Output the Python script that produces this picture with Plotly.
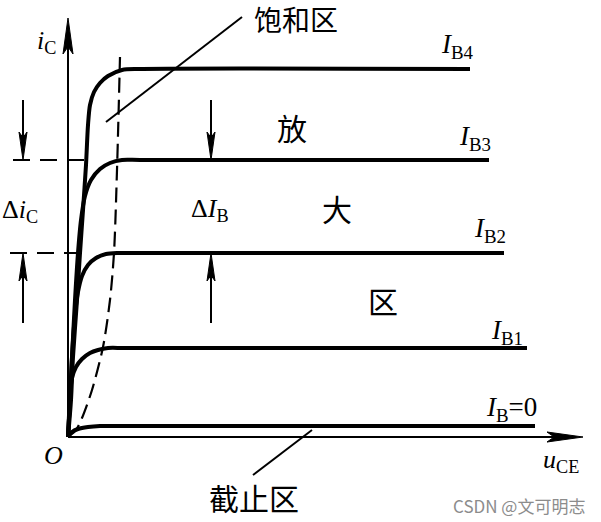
import plotly.graph_objects as go

# ---- output characteristic curves (u_CE, i_C) in chart units ----
ib4_u = [0, 3, 5, 9, 12, 15, 18, 20, 22, 26, 32, 40, 54, 72, 402]
ib4_i = [0, 37, 80, 137, 184, 227, 272, 312, 332, 345, 354, 361, 367, 368, 368]

ib3_u = [0, 2, 4, 7, 10, 13, 17, 23, 32, 42, 54, 72, 421]
ib3_i = [0, 37, 80, 137, 184, 217, 241, 257, 268, 274, 277, 277, 277]

ib2_u = [0, 2, 4, 7, 10, 14, 20, 28, 38, 50, 67, 436]
ib2_i = [0, 37, 80, 122, 145, 161, 172, 179, 183, 184, 184, 184]

ib1_u = [0, 1, 2, 4, 8, 14, 22, 30, 40, 57, 459]
ib1_i = [0, 22, 42, 59, 70, 78, 84, 87, 89, 89, 89]

ib0_u = [0, 4, 10, 20, 32, 52, 467]
ib0_i = [0, 5, 8, 10, 11, 11, 11]

# saturation boundary (dashed)
sat_u = [1, 8, 14, 24, 35, 42, 46, 49, 52]
sat_i = [1, 7, 19, 47, 90, 137, 184, 267, 380]

# axes extents
x_axis_end = 515
y_axis_end = 419

# delta i_C reference levels (IB3 and IB2 levels)
delta_levels = [277, 184]
delta_ref_start = [-55, -58]
delta_ref_end = [18, 12]
arrow_cols = [-45, 143]
arrow_outer = [337, 114]

# leader lines
sat_leader_u = [38, 174]
sat_leader_i = [315, 420]
cut_leader_u = [185, 244]
cut_leader_i = [-38, 7]

# curve labels
curve_labels = ["<i>I</i><sub>B4</sub>", "<i>I</i><sub>B3</sub>", "<i>I</i><sub>B2</sub>",
                "<i>I</i><sub>B1</sub>", "<i>I</i><sub>B</sub>=0"]
curve_label_u = [371, 389, 404, 421, 416]
curve_label_i = [391, 299, 207, 105, 28]

region_texts = ["饱和区", "放", "大", "区", "截止区"]
region_u = [228, 224, 269, 315, 186]
region_i = [418, 310, 229, 137, -60]
region_size = [28, 30, 30, 30, 30]

SERIF = "Liberation Serif"
CJK = "Noto Sans CJK SC"

fig = go.Figure()

def curve(u, i, width=4, dash=None, shape="spline"):
    fig.add_trace(go.Scatter(x=u, y=i, mode="lines",
                             line=dict(color="black", width=width, dash=dash,
                                       shape=shape, smoothing=0.8),
                             hoverinfo="skip", showlegend=False))

for u, i in [(ib4_u, ib4_i), (ib3_u, ib3_i), (ib2_u, ib2_i), (ib1_u, ib1_i), (ib0_u, ib0_i)]:
    curve(u, i)

curve(sat_u, sat_i, width=2.2, dash="15px,7px")

# dashed reference levels
for lvl, s, e in zip(delta_levels, delta_ref_start, delta_ref_end):
    curve([s, e], [lvl, lvl], width=2, dash="17px,10px", shape="linear")

# leader lines
curve(sat_leader_u, sat_leader_i, width=2, shape="linear")
curve(cut_leader_u, cut_leader_i, width=2, shape="linear")

shapes = []

def line(x0, y0, x1, y1, w=2):
    shapes.append(dict(type="line", xref="x", yref="y", x0=x0, y0=y0, x1=x1, y1=y1,
                       line=dict(color="black", width=w)))

def head(tu, ti, d, length, width):
    if d == "up":
        pts = [(tu, ti), (tu - width / 2, ti - length), (tu, ti - length * 0.8), (tu + width / 2, ti - length)]
    elif d == "down":
        pts = [(tu, ti), (tu - width / 2, ti + length), (tu, ti + length * 0.8), (tu + width / 2, ti + length)]
    else:
        pts = [(tu, ti), (tu - length, ti + width / 2), (tu - length * 0.8, ti), (tu - length, ti - width / 2)]
    path = "M " + " L ".join(f"{a},{b}" for a, b in pts) + " Z"
    shapes.append(dict(type="path", xref="x", yref="y", path=path,
                       fillcolor="black", line=dict(color="black", width=1)))

# axes
line(0, 0, 0, y_axis_end - 20)
head(0, y_axis_end, "up", 36, 10)
line(0, 0, x_axis_end - 20, 0)
head(x_axis_end, 0, "right", 36, 10)

# delta arrows
for col in arrow_cols:
    line(col, arrow_outer[0], col, delta_levels[0] + 10)
    head(col, delta_levels[0], "down", 28, 8)
    line(col, arrow_outer[1], col, delta_levels[1] - 10)
    head(col, delta_levels[1], "up", 28, 8)

ann = []

def text(t, u, i, size, family, xanchor="center", yanchor="middle", color="black"):
    ann.append(dict(text=t, x=u, y=i, xref="x", yref="y", showarrow=False,
                    xanchor=xanchor, yanchor=yanchor,
                    font=dict(family=family, size=size, color=color)))

for t, u, i in zip(curve_labels, curve_label_u, curve_label_i):
    text(t, u, i, 27, SERIF, xanchor="left")

for t, u, i, s in zip(region_texts, region_u, region_i, region_size):
    text(t, u, i, s, CJK)

text("<i>i</i><sub>C</sub>", -33, 395, 26, SERIF, xanchor="left")
text("<i>u</i><sub>CE</sub>", 473, -24, 26, SERIF, xanchor="left")
text("<i>O</i>", -15, -18, 26, SERIF)
text("Δ<i>i</i><sub>C</sub>", -68, 226, 26, SERIF, xanchor="left")
text("Δ<i>I</i><sub>B</sub>", 121, 227, 26, SERIF, xanchor="left")
text("CSDN @文可明志", 451, -68, 17, CJK, color="#8c8c8c")

fig.update_layout(
    width=601, height=522,
    margin=dict(l=0, r=0, t=0, b=0),
    paper_bgcolor="white", plot_bgcolor="white",
    xaxis=dict(range=[-68, 533], visible=False, fixedrange=True),
    yaxis=dict(range=[-85, 437], visible=False, fixedrange=True),
    shapes=shapes, annotations=ann, showlegend=False,
)

fig.write_html(
    "out.html",
    config={"displayModeBar": False},
    post_script="document.body.style.margin='0';document.body.style.overflow='hidden';",
)
